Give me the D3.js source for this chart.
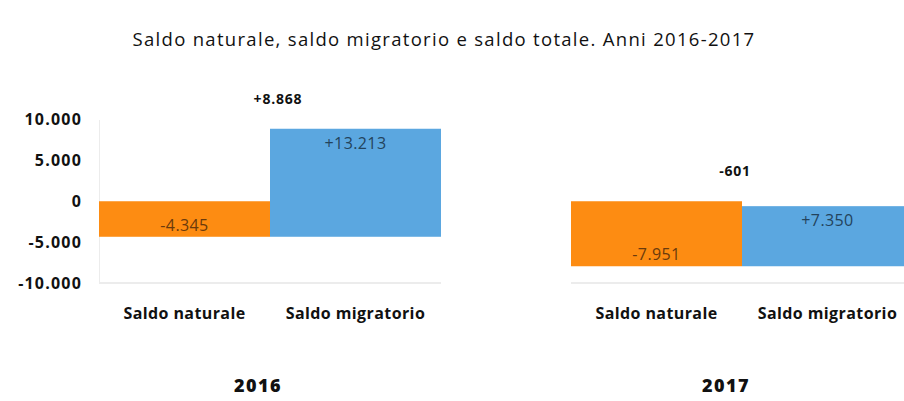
<!DOCTYPE html>
<html>
<head>
<meta charset="utf-8">
<script src="https://cdn.jsdelivr.net/npm/d3@7"></script>
<style>
  body { margin: 0; background: #fff; }
  svg { display: block; font-family: "Open Sans", Lato, sans-serif; }
</style>
</head>
<body>
<svg id="chart" width="904" height="401"></svg>
<script>
// data
const years = ['2016', '2017'];
const categories = ['Saldo naturale', 'Saldo migratorio'];
const saldoNaturale = [-4345, -7951];
const saldoMigratorio = [13213, 7350];
const saldoTotale = [8868, -601];
const yTicks = [-10000, -5000, 0, 5000, 10000];

const svg = d3.select('#chart');
const it = d3.formatLocale({ decimal: ',', thousands: '.', grouping: [3], currency: ['€', ''], minus: '-' });
const fmt = it.format(',');
const fmtSigned = it.format('+,');

const colors = { nat: '#fd8c12', mig: '#5ba7e0' };
const textColors = { nat: '#6a3a0c', mig: '#23435c' };

// shared value scale, both panels use it
const y = d3.scaleLinear().domain([-10000, 10000]).range([283, 119.5]);

const panels = [
  { x0: 99, x1: 441, axis: true },
  { x0: 571, x1: 913, axis: false }
];

svg.append('text')
  .attr('x', 444).attr('y', 46)
  .attr('text-anchor', 'middle')
  .attr('font-size', 18.5)
  .attr('letter-spacing', 1.3)
  .attr('fill', '#111')
  .text('Saldo naturale, saldo migratorio e saldo totale. Anni 2016-2017');

panels.forEach((p, i) => {
  const g = svg.append('g');
  const x = d3.scaleBand().domain(categories).range([p.x0, p.x1]).paddingInner(0).paddingOuter(0);

  // baseline
  g.append('line')
    .attr('x1', p.x0).attr('x2', Math.min(p.x1, 904))
    .attr('y1', y(-10000)).attr('y2', y(-10000))
    .attr('stroke', '#d9d9d9').attr('stroke-width', 1.2);

  if (p.axis) {
    const ax = g.append('g')
      .attr('transform', `translate(${p.x0},0)`)
      .call(d3.axisLeft(y).tickValues(yTicks).tickFormat(fmt).tickSize(0).tickPadding(17));
    ax.select('.domain').attr('stroke', '#ececec');
    ax.selectAll('text')
      .attr('font-family', '"Open Sans", sans-serif')
      .attr('font-size', 16).attr('font-weight', 700)
      .attr('letter-spacing', 1.2).attr('fill', '#111');
  }

  const nat = saldoNaturale[i];
  const mig = saldoMigratorio[i];
  const bars = [
    { key: 'nat', cat: categories[0], from: 0, to: nat, label: fmt(nat) },
    { key: 'mig', cat: categories[1], from: nat, to: nat + mig, label: fmtSigned(mig) }
  ];

  g.selectAll('rect.bar').data(bars).join('rect')
    .attr('class', 'bar')
    .attr('x', d => x(d.cat))
    .attr('width', x.bandwidth())
    .attr('y', d => y(Math.max(d.from, d.to)))
    .attr('height', d => Math.abs(y(d.from) - y(d.to)))
    .attr('fill', d => colors[d.key]);

  // value labels: orange label near the bottom, blue label near the top
  g.selectAll('text.val').data(bars).join('text')
    .attr('class', 'val')
    .attr('x', d => x(d.cat) + x.bandwidth() / 2)
    .attr('y', d => d.key === 'nat' ? y(Math.min(d.from, d.to)) - 6 : y(Math.max(d.from, d.to)) + 20)
    .attr('text-anchor', 'middle')
    .attr('font-size', 16)
    .attr('letter-spacing', 0.4)
    .attr('fill', d => textColors[d.key])
    .text(d => d.label);

  // total above the bars
  const top = Math.max(0, nat, nat + mig);
  g.append('text')
    .attr('x', x(categories[1]) - (i === 0 ? -8 : 7))
    .attr('y', y(top) - 25)
    .attr('text-anchor', 'middle')
    .attr('font-size', 14).attr('font-weight', 700)
    .attr('letter-spacing', 0.8).attr('fill', '#111')
    .text(saldoTotale[i] > 0 ? fmtSigned(saldoTotale[i]) : fmt(saldoTotale[i]));

  // category labels
  g.selectAll('text.cat').data(categories).join('text')
    .attr('class', 'cat')
    .attr('x', d => x(d) + x.bandwidth() / 2)
    .attr('y', 319)
    .attr('text-anchor', 'middle')
    .attr('font-size', 16).attr('font-weight', 700)
    .attr('letter-spacing', 0.4)
    .attr('fill', '#111')
    .text(d => d);

  g.append('text')
    .attr('x', i === 0 ? 258 : 726)
    .attr('y', 392)
    .attr('text-anchor', 'middle')
    .attr('font-size', 18).attr('font-weight', 800)
    .attr('letter-spacing', 1.5).attr('fill', '#111')
    .text(years[i]);
});
</script>
</body>
</html>
